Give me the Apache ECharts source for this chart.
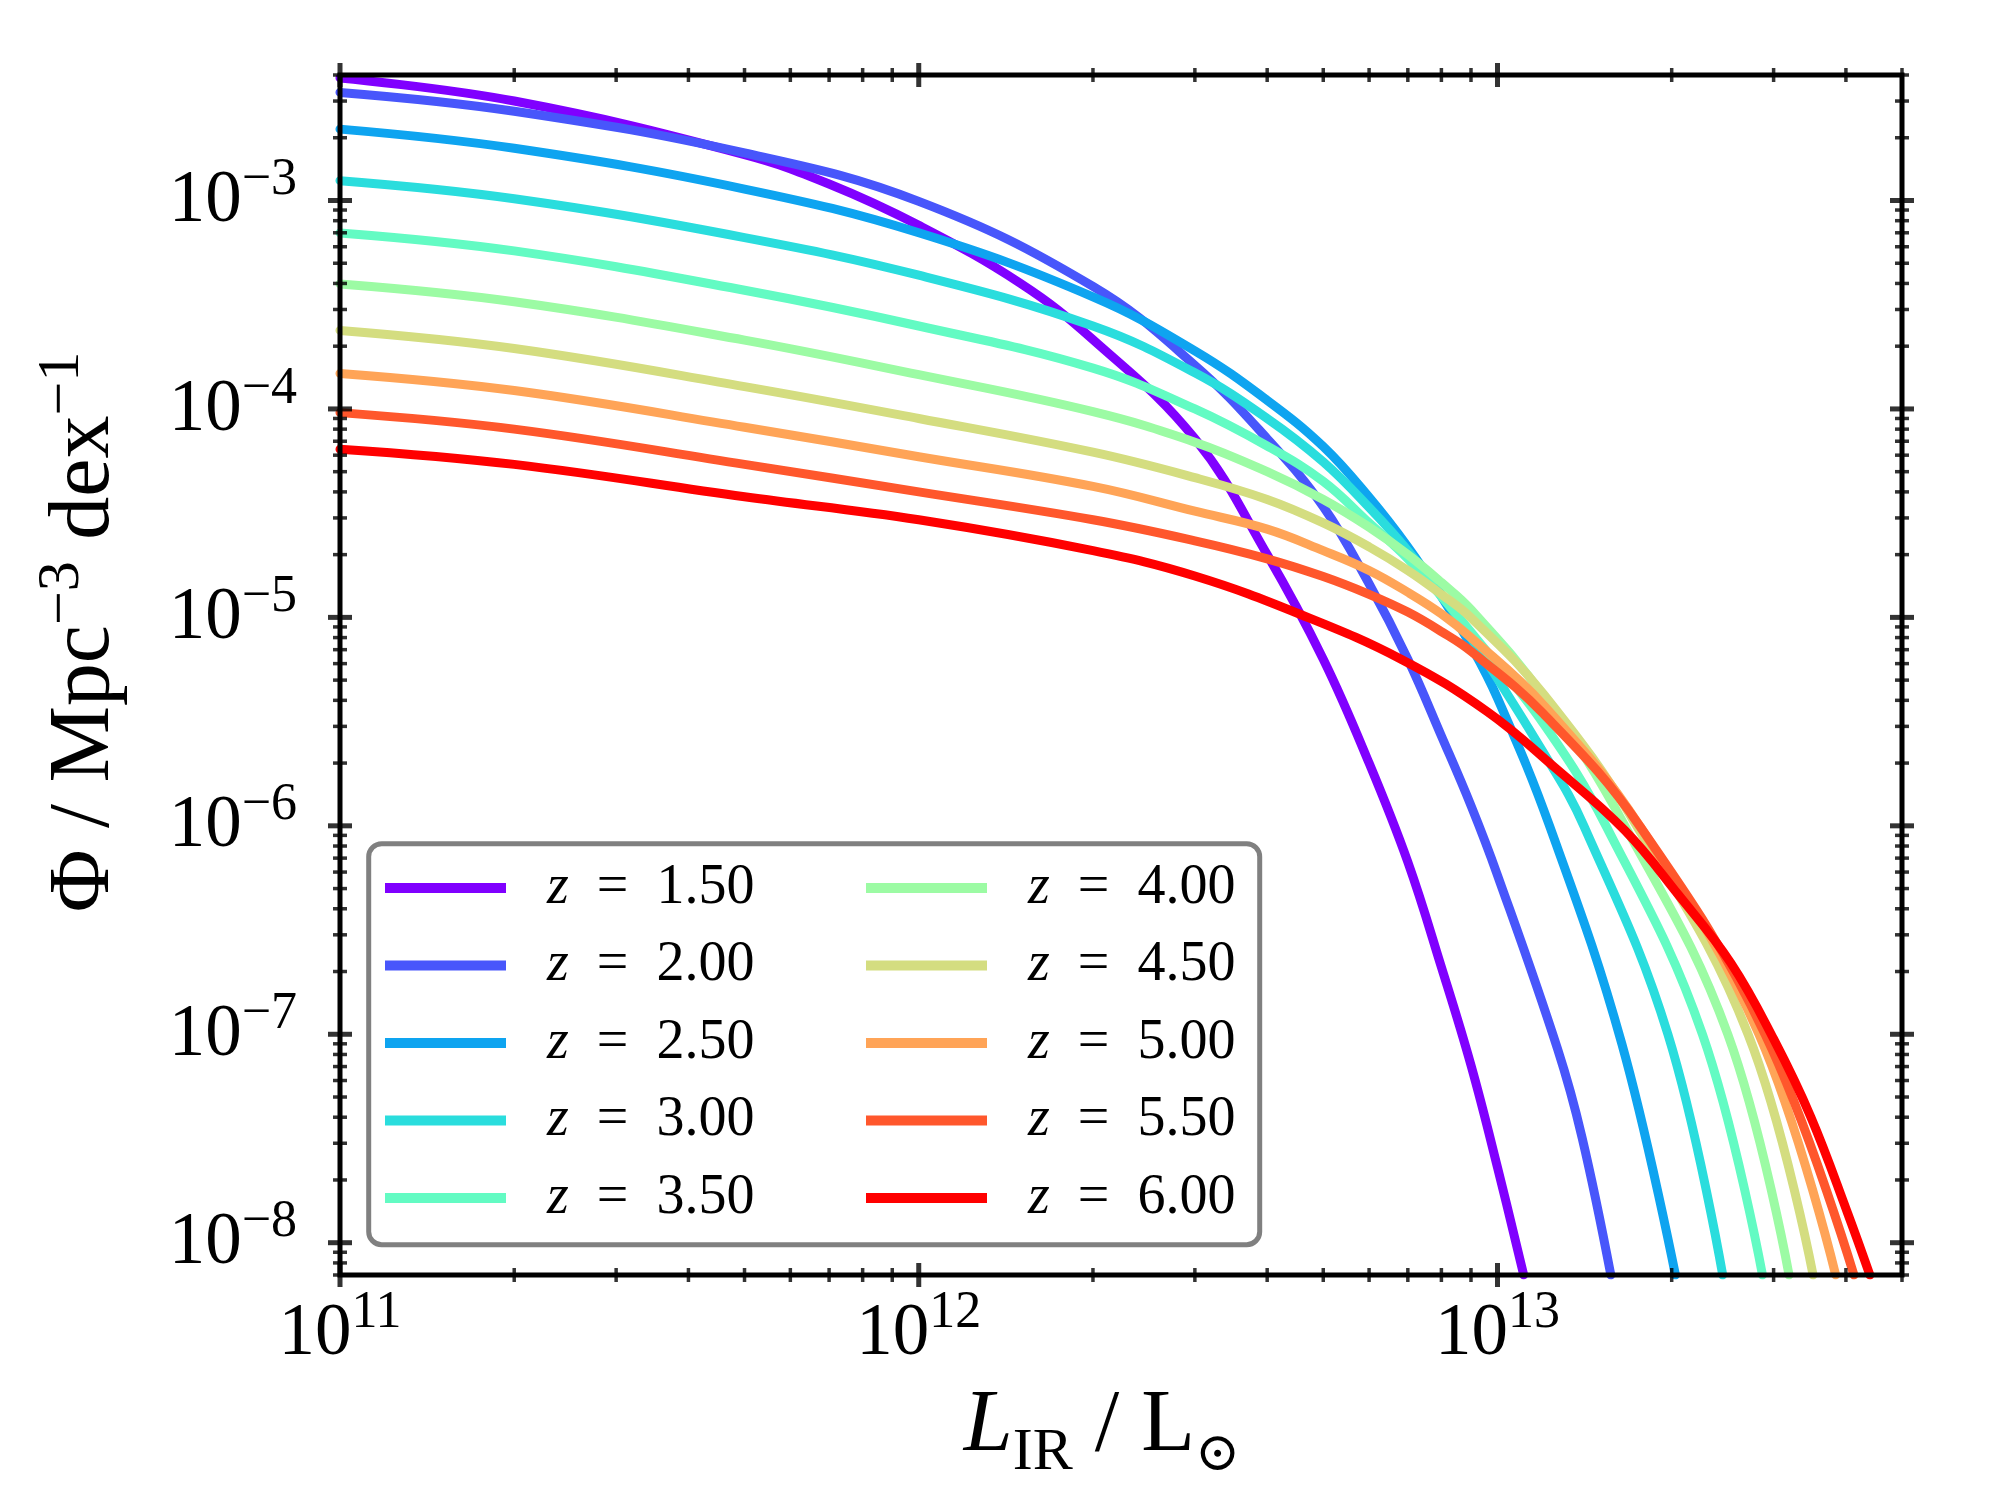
<!DOCTYPE html>
<html>
<head>
<meta charset="utf-8">
<script src="https://cdn.jsdelivr.net/npm/echarts/dist/echarts.min.js"></script>
<style>
html,body{margin:0;padding:0;background:#ffffff;}
#chart{width:2000px;height:1500px;}
</style>
</head>
<body>
<div id="chart"></div>
<script>
// ---------------- data ----------------
const seriesNames = ['z = 1.50','z = 2.00','z = 2.50','z = 3.00','z = 3.50','z = 4.00','z = 4.50','z = 5.00','z = 5.50','z = 6.00'];

// [L_IR (Lsun), Phi (Mpc^-3 dex^-1)]
const z150 = [[1e11,3.87e-3],[2e11,3.0e-3],[5e11,1.66e-3],[7e11,1.2e-3],[1e12,7.6e-4],[1.5e12,4.0e-4],[2e12,2.15e-4],[3e12,7.2e-5],[4e12,2.0e-5],[5e12,6.3e-6],[6e12,2.0e-6],[7e12,6.7e-7],[8e12,2.1e-7],[9e12,7.1e-8],[1e13,2.3e-8],[1.11e13,7.0e-9]];
const z200 = [[1e11,3.30e-3],[2e11,2.68e-3],[5e11,1.69e-3],[1e12,9.9e-4],[2e12,3.87e-4],[3e12,1.62e-4],[4e12,7.2e-5],[5e12,3.4e-5],[6e12,1.45e-5],[7e12,6.3e-6],[8e12,2.7e-6],[9e12,1.25e-6],[1e13,5.8e-7],[1.27e13,8.5e-8],[1.4e13,3.2e-8],[1.57e13,7.0e-9]];
const z250 = [[1e11,2.20e-3],[2e11,1.78e-3],[5e11,1.135e-3],[1e12,7.0e-4],[2e12,3.45e-4],[3e12,1.9e-4],[4e12,1.1e-4],[5e12,6.6e-5],[6e12,3.77e-5],[7e12,2.18e-5],[8e12,1.26e-5],[9e12,7.3e-6],[1e13,4.1e-6],[1.23e13,1.0e-6],[1.64e13,9.0e-8],[2.03e13,7.0e-9]];
const z300 = [[1e11,1.245e-3],[2e11,1.02e-3],[5e11,6.64e-4],[1e12,4.38e-4],[2e12,2.5e-4],[3e12,1.49e-4],[4e12,9.0e-5],[5e12,5.57e-5],[6e12,3.37e-5],[7e12,2.09e-5],[8e12,1.29e-5],[9e12,8.0e-6],[1.2e13,2.25e-6],[1.41e13,1.0e-6],[1.97e13,1.0e-7],[2.45e13,7.0e-9]];
const z350 = [[1e11,6.99e-4],[2e11,5.73e-4],[5e11,3.71e-4],[1e12,2.50e-4],[2e12,1.57e-4],[3e12,1.0e-4],[4e12,6.64e-5],[5e12,4.49e-5],[6e12,2.84e-5],[7e12,1.91e-5],[8e12,1.26e-5],[9e12,8.5e-6],[1.2e13,3.1e-6],[1.54e13,1.0e-6],[2.26e13,1.0e-7],[2.87e13,7.0e-9]];
const z400 = [[1e11,3.98e-4],[2e11,3.27e-4],[5e11,2.14e-4],[1e12,1.46e-4],[2e12,9.7e-5],[3e12,6.93e-5],[4e12,5.0e-5],[5e12,3.68e-5],[6e12,2.71e-5],[7e12,2.0e-5],[8e12,1.47e-5],[9e12,1.09e-5],[1.2e13,4.2e-6],[1.66e13,1.0e-6],[2.5e13,1.0e-7],[3.19e13,7.0e-9]];
const z450 = [[1e11,2.38e-4],[2e11,1.95e-4],[5e11,1.28e-4],[1e12,9.0e-5],[2e12,6.2e-5],[3e12,4.68e-5],[4e12,3.68e-5],[5e12,2.84e-5],[6e12,2.18e-5],[7e12,1.68e-5],[8e12,1.29e-5],[9e12,9.96e-6],[1.2e13,4.3e-6],[1.74e13,1.0e-6],[2.71e13,1.0e-7],[3.51e13,7.0e-9]];
const z500 = [[1e11,1.48e-4],[2e11,1.225e-4],[5e11,8.17e-5],[1e12,5.9e-5],[2e12,4.25e-5],[3e12,3.23e-5],[4e12,2.65e-5],[5e12,2.09e-5],[6e12,1.68e-5],[7e12,1.32e-5],[8e12,1.04e-5],[9e12,8.0e-6],[1.2e13,3.8e-6],[1.76e13,1.0e-6],[2.83e13,1.0e-7],[3.84e13,7.0e-9]];
const z550 = [[1e11,9.6e-5],[2e11,8.0e-5],[5e11,5.42e-5],[1e12,4.0e-5],[2e12,2.94e-5],[3e12,2.33e-5],[4e12,1.91e-5],[5e12,1.57e-5],[6e12,1.29e-5],[7e12,1.06e-5],[8e12,8.55e-6],[9e12,6.87e-6],[1.2e13,3.45e-6],[1.76e13,1.0e-6],[2.9e13,1.0e-7],[4.13e13,7.0e-9]];
const z600 = [[1e11,6.41e-5],[2e11,5.42e-5],[5e11,3.79e-5],[1e12,2.94e-5],[2e12,2.09e-5],[3e12,1.58e-5],[4.58e12,1.03e-5],[6.84e12,6.27e-6],[9.6e12,3.53e-6],[1.26e13,1.89e-6],[1.66e13,9.5e-7],[2.05e13,4.7e-7],[2.53e13,2.2e-7],[3.0e13,9.5e-8],[3.48e13,4.0e-8],[4.03e13,1.38e-8],[4.40e13,7.0e-9]];

const curves = [z150,z200,z250,z300,z350,z400,z450,z500,z550,z600];

// axis ranges and tick values
const X_MIN = 1e11, X_MAX = 5e13;
const Y_MIN = 7e-9, Y_MAX = 4e-3;
const xMajorTicks = [1e11, 1e12, 1e13];
const xMinorTicks = [2e11,3e11,4e11,5e11,6e11,7e11,8e11,9e11,2e12,3e12,4e12,5e12,6e12,7e12,8e12,9e12,2e13,3e13,4e13,5e13];
const yMajorTicks = [1e-8, 1e-7, 1e-6, 1e-5, 1e-4, 1e-3];
const yMinorTicks = [7e-9,8e-9,9e-9,
  2e-8,3e-8,4e-8,5e-8,6e-8,7e-8,8e-8,9e-8,
  2e-7,3e-7,4e-7,5e-7,6e-7,7e-7,8e-7,9e-7,
  2e-6,3e-6,4e-6,5e-6,6e-6,7e-6,8e-6,9e-6,
  2e-5,3e-5,4e-5,5e-5,6e-5,7e-5,8e-5,9e-5,
  2e-4,3e-4,4e-4,5e-4,6e-4,7e-4,8e-4,9e-4,
  2e-3,3e-3,4e-3];

// ---------------- styles ----------------
const COLORS = ['#8000ff','#4856fb','#0ea4f0','#2adddd','#63fbc3','#9cfba4','#d4dd80','#ffa457','#ff572c','#ff0000'];
const FONT = "'Liberation Serif','DejaVu Serif',serif";

function powLabel(v){
  const lg = Math.log10(v);
  const e = Math.round(lg);
  if (Math.abs(lg - e) > 0.01) return '';
  const ex = e < 0 ? '\u2212' + (-e) : String(e);
  return '{b|10}{s|' + ex + '}';
}
const labelRich = {
  b: {fontFamily: FONT, fontSize: 73, lineHeight: 76, color: '#000', verticalAlign: 'bottom'},
  s: {fontFamily: FONT, fontSize: 52, lineHeight: 54, color: '#000', verticalAlign: 'bottom', padding: [0,0,32,0]}
};

function tickSeries(points, size){
  return {
    type: 'scatter', data: points, symbol: 'rect', symbolSize: size,
    itemStyle: {color: '#000'}, silent: true, clip: false, z: 6,
    xAxisIndex: 0, yAxisIndex: 0, legendHoverLink: false, tooltip: {show: false}
  };
}

const lineSeries = curves.map((d, i) => ({
  name: seriesNames[i], type: 'line', data: d,
  xAxisIndex: 0, yAxisIndex: 0,
  showSymbol: false, symbol: 'none', smooth: 0.4,
  color: COLORS[i],
  itemStyle: {color: COLORS[i]},
  lineStyle: {color: COLORS[i], width: 9, cap: 'round', join: 'round'},
  clip: true, z: 2
}));

const tickSeriesList = [
  tickSeries(xMajorTicks.map(v => [v, Y_MIN]).concat(xMajorTicks.map(v => [v, Y_MAX])), [5, 24]),
  tickSeries(xMinorTicks.map(v => [v, Y_MIN]).concat(xMinorTicks.map(v => [v, Y_MAX])), [3.5, 14]),
  tickSeries(yMajorTicks.map(v => [X_MIN, v]).concat(yMajorTicks.map(v => [X_MAX, v])), [24, 5]),
  tickSeries(yMinorTicks.map(v => [X_MIN, v]).concat(yMinorTicks.map(v => [X_MAX, v])), [14, 3.5])
];

const legendRich = {
  i: {fontFamily: FONT, fontStyle: 'italic', fontSize: 56, lineHeight: 60, color: '#000'},
  n: {fontFamily: FONT, fontSize: 56, lineHeight: 60, color: '#000'}
};
function legendFmt(name){
  return '{i|z}{n|\u2002=\u2002' + name.split('= ')[1] + '}';
}
function makeLegend(names, left){
  return {
    data: names, orient: 'vertical', left: left, top: 860, padding: 0,
    itemWidth: 121, itemHeight: 10, itemGap: 21.5, icon: 'rect',
    selectedMode: false, formatter: legendFmt,
    textStyle: {fontFamily: FONT, fontSize: 56, color: '#000', padding: [0,0,0,36], rich: legendRich},
    z: 4
  };
}

const chart = echarts.init(document.getElementById('chart'), null, {renderer: 'canvas'});
chart.setOption({
  backgroundColor: '#ffffff',
  animation: false,
  textStyle: {fontFamily: FONT},
  grid: {left: 340, top: 75, width: 1562, height: 1200, show: true, borderWidth: 5, borderColor: '#000', backgroundColor: 'transparent', z: 5, containLabel: false},
  xAxis: [{
    type: 'log', logBase: 10, min: X_MIN, max: X_MAX, splitNumber: 3,
    axisLine: {show: false}, axisTick: {show: false}, splitLine: {show: false}, minorTick: {show: false},
    axisLabel: {customValues: xMajorTicks, formatter: powLabel, margin: 20, rich: labelRich, color: '#000', showMinLabel: true, showMaxLabel: true},
    name: '{i|L}{sub|IR}{r| / L}{sun|\u2299}', nameLocation: 'middle', nameGap: 118,
    nameTextStyle: {
      padding: [0, 38, 0, 0],
      rich: {
        i: {fontFamily: FONT, fontStyle: 'italic', fontSize: 88, lineHeight: 90, padding: [0,0,12,0], verticalAlign: 'bottom', color: '#000'},
        sub: {fontFamily: FONT, fontSize: 60, lineHeight: 62, verticalAlign: 'bottom', color: '#000'},
        r: {fontFamily: FONT, fontSize: 88, lineHeight: 90, padding: [0,0,12,0], verticalAlign: 'bottom', color: '#000'},
        sun: {fontFamily: "'DejaVu Serif','DejaVu Sans',serif", fontSize: 54, lineHeight: 62, verticalAlign: 'bottom', color: '#000'}
      }
    }
  }],
  yAxis: [{
    type: 'log', logBase: 10, min: Y_MIN, max: Y_MAX, splitNumber: 6,
    axisLine: {show: false}, axisTick: {show: false}, splitLine: {show: false}, minorTick: {show: false},
    axisLabel: {customValues: yMajorTicks, formatter: powLabel, margin: 43, rich: labelRich, color: '#000'},
    name: '{r|\u03A6 / Mpc}{s|\u22123}{r| dex}{s|\u22121}', nameLocation: 'middle', nameRotate: 90, nameGap: 212,
    nameTextStyle: {
      padding: [0, 0, 0, 86],
      rich: {
        r: {fontFamily: FONT, fontSize: 86, lineHeight: 90, verticalAlign: 'bottom', color: '#000'},
        s: {fontFamily: FONT, fontSize: 60, lineHeight: 62, padding: [0,0,36,0], verticalAlign: 'bottom', color: '#000'}
      }
    }
  }],
  legend: [
    makeLegend(seriesNames.slice(0, 5), 385),
    makeLegend(seriesNames.slice(5), 866)
  ],
  graphic: [{
    type: 'rect', z: 3,
    shape: {x: 368.7, y: 843.7, width: 891, height: 401, r: 13},
    style: {fill: '#ffffff', stroke: '#808080', lineWidth: 5}
  }],
  series: lineSeries.concat(tickSeriesList)
});
</script>
</body>
</html>
